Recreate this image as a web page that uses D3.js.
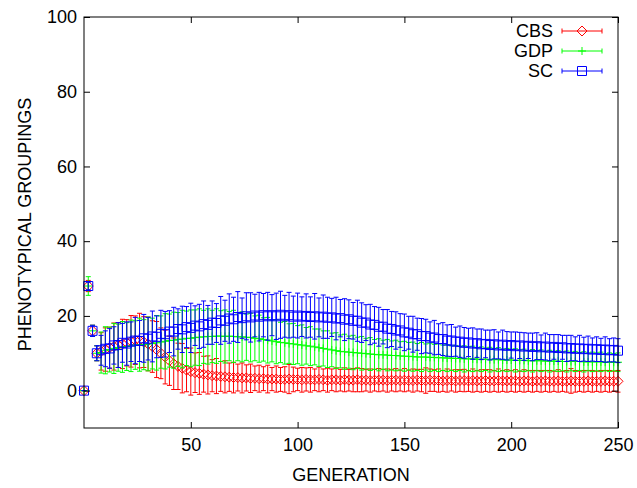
<!DOCTYPE html>
<html><head><meta charset="utf-8">
<script src="https://cdn.jsdelivr.net/npm/d3@7"></script>
<style>
html,body{margin:0;padding:0;background:#fff;}
svg{display:block;font-family:"Liberation Sans",Arial,sans-serif;}
</style></head>
<body>
<svg id="chart" width="637" height="488"></svg>
<script>
// generations sampled
const generations = [
  0,2,4,6,8,10,12,14,16,18,
  20,22,24,26,28,30,32,34,36,38,
  40,42,44,46,48,50,52,54,56,58,
  60,62,64,66,68,70,72,74,76,78,
  80,82,84,86,88,90,92,94,96,98,
  100,102,104,106,108,110,112,114,116,118,
  120,122,124,126,128,130,132,134,136,138,
  140,142,144,146,148,150,152,154,156,158,
  160,162,164,166,168,170,172,174,176,178,
  180,182,184,186,188,190,192,194,196,198,
  200,202,204,206,208,210,212,214,216,218,
  220,222,224,226,228,230,232,234,236,238,
  240,242,244,246,248,250];

const seriesNames = ["CBS", "GDP", "SC"];

const cbsMean = [
  0,28,16,10,10.5,11,11.5,11.8,12.2,12.5,
  12.8,13.2,13.5,13.4,13,12.5,11.8,11,10,9,
  8,7.2,6.5,6,5.5,5.1,4.8,4.6,4.4,4.2,
  4,3.9,3.8,3.7,3.6,3.5,3.5,3.4,3.4,3.3,
  3.3,3.2,3.2,3.1,3.1,3.1,3,3,3.1,3,
  3,2.9,3,2.9,2.9,3,2.9,2.8,2.9,2.9,
  2.8,2.9,2.8,2.8,2.9,2.8,2.8,2.7,2.8,2.8,
  2.8,2.7,2.8,2.8,2.7,2.8,2.7,2.7,2.8,2.7,
  2.7,2.8,2.7,2.7,2.6,2.7,2.7,2.6,2.7,2.7,
  2.6,2.7,2.6,2.6,2.7,2.6,2.6,2.7,2.6,2.6,
  2.6,2.6,2.5,2.6,2.6,2.5,2.6,2.5,2.6,2.5,
  2.5,2.6,2.5,2.5,2.6,2.5,2.5,2.5,2.6,2.5,
  2.5,2.5,2.6,2.5,2.5,2.5];
const cbsErr = [
  0,1.5,1.5,2,5,5.8,5.5,6.3,6,6.6,
  6.2,6.9,6.5,7.3,6.8,7.2,6.9,7.5,6.8,7.2,
  6.6,6.9,6.2,6.6,5.8,6.3,5.3,5.6,4.8,5.1,
  4.3,4.7,4,4.3,3.8,4.1,3.6,4,3.5,3.8,
  3.3,3.6,3.2,3.7,3.1,3.5,3.2,3.4,3.9,3.3,
  3,3.3,3.1,3.3,2.9,3.3,2.9,3.2,2.9,3.2,
  2.9,3.2,2.9,3.1,3.2,3.1,2.9,3.1,2.9,3.1,
  2.9,3.1,2.9,3.1,2.8,3.1,2.8,3.1,2.9,3,
  3.4,3,2.9,3.1,2.8,3.1,2.8,3,2.9,3,
  2.8,3.1,2.8,3,2.9,3,2.8,3.1,2.8,3,
  2.8,3,2.7,3,2.8,2.9,2.8,2.9,2.8,2.9,
  2.7,3,2.7,2.9,3.3,2.9,2.7,2.9,2.8,2.9,
  2.7,2.9,2.8,2.9,2.7,2.9];

const gdpMean = [
  0,28,16,10,10.2,10.8,11,11.3,11.5,11.7,
  11.8,12,12.2,12.3,12.3,12.5,12.6,12.8,13,13.2,
  13.4,13.5,13.7,13.8,14,14,14.2,14.3,14.4,14.5,
  14.5,14.6,14.6,14.5,14.6,14.5,14.4,14.4,14.3,14.2,
  14,13.9,13.7,13.5,13.3,13.1,12.9,12.8,12.6,12.5,
  12.3,12.2,12,11.9,11.7,11.5,11.3,11.1,10.9,10.7,
  10.5,10.4,10.3,10.2,10.1,10,9.9,9.8,9.7,9.6,
  9.6,9.5,9.4,9.4,9.3,9.2,9.2,9.1,9,9,
  9,8.9,8.9,8.8,8.8,8.7,8.7,8.6,8.6,8.5,
  8.5,8.5,8.4,8.4,8.4,8.3,8.3,8.3,8.2,8.2,
  8.2,8.1,8.1,8.1,8,8,8,8,7.9,7.9,
  7.9,7.9,7.8,7.8,7.8,7.8,7.8,7.7,7.7,7.7,
  7.7,7.7,7.6,7.6,7.6,7.6];
const gdpErr = [
  0,2.5,1.5,2,5.5,6.3,6,6.7,6.3,6.8,
  6.4,6.9,6.5,7.1,6.7,7.2,6.8,7.3,7,7.4,
  7.1,7.5,7.2,7.7,7.3,7.6,7.4,7.6,7.1,7.4,
  7,7.3,6.8,7.1,6.6,7,6.4,6.7,6.2,6.5,
  6,6.3,5.8,6.1,5.6,5.9,5.4,5.7,5.3,5.5,
  5.1,5.4,4.9,5.2,4.8,5,4.7,4.9,4.5,4.8,
  4.4,4.7,4.3,4.6,4.2,4.5,4.1,4.4,4,4.3,
  3.9,4.2,3.9,4.1,3.8,4,3.7,3.9,3.6,3.9,
  3.5,3.8,3.5,3.7,3.4,3.6,3.3,3.5,3.2,3.5,
  3.2,3.4,3.1,3.3,3,3.3,3,3.2,2.9,3.1,
  2.9,3.1,2.8,3,2.7,3,2.7,2.9,2.6,2.9,
  2.6,2.8,2.5,2.8,2.5,2.7,2.4,2.7,2.4,2.6,
  2.4,2.6,2.3,2.5,2.3,2.5];

const scMean = [
  0,28,16,10,10.8,11.2,11.3,12.1,12.2,12.8,
  12.6,13.1,13.4,13.3,14,13.9,14.5,14.4,15.2,15.1,
  15.8,15.8,16.5,16.4,17,16.8,17.4,17.2,17.8,17.6,
  18.2,18.1,18.8,18.7,19.3,19.1,19.7,19.4,19.9,19.6,
  20.1,19.8,20.2,19.9,20.2,19.9,20.3,19.9,20.2,19.8,
  20.1,19.8,20,19.7,19.9,19.6,19.8,19.5,19.6,19.3,
  19.4,19,19.1,18.7,18.7,18.2,18.2,17.7,17.6,17.1,
  17.1,16.6,16.5,16.1,16.1,15.6,15.5,15.1,15.1,14.6,
  14.6,14.2,14.2,13.8,13.8,13.4,13.4,13.1,13.1,12.8,
  12.9,12.6,12.7,12.4,12.5,12.2,12.4,12.1,12.3,12,
  12.2,11.9,12.1,11.8,12,11.7,11.9,11.6,11.8,11.5,
  11.7,11.4,11.6,11.3,11.4,11.2,11.3,11.1,11.2,11,
  11.1,10.9,11,10.8,10.9,10.7];
const scErr = [
  0,1,1.5,2,4,4.8,5.3,5,6,5.2,
  5.8,5.3,6.2,5.5,6.4,5.7,6.8,5.6,6.3,6.1,
  5.6,6.5,5.4,6.2,5.5,6.6,5.3,5.9,6.2,5.2,
  5.8,5.2,6.4,5.5,6.6,5.9,6.8,5.4,6.3,6.6,
  5.7,6.5,5.8,6.4,5.5,6.2,6.3,5.6,6.1,5.5,
  6,5.3,5.9,5.4,6.1,5.2,5.8,5.5,5.1,5.7,
  5,5.6,5.2,4.9,5.5,5.3,4.8,5.4,4.9,5.2,
  4.6,5.1,4.7,5,4.5,4.9,4.4,4.8,4.3,4.7,
  4.5,4.2,4.6,4.1,4.4,4.2,4.3,3.9,4.2,4.1,
  3.8,4.2,3.8,4.1,3.7,4,3.9,3.6,3.9,3.8,
  3.5,3.8,3.5,3.7,3.4,3.7,3.6,3.3,3.6,3.5,
  3.3,3.6,3.2,3.5,3.4,3.2,3.5,3.2,3.4,3.1,
  3.3,3.1,3.4,3.1,3.2,3.2];

const xTicks = [50, 100, 150, 200, 250];
const yTicks = [0, 20, 40, 60, 80, 100];

const series = [
  {name: seriesNames[0], mean: cbsMean, err: cbsErr, color: "#ff0000", marker: "diamond"},
  {name: seriesNames[1], mean: gdpMean, err: gdpErr, color: "#00ff00", marker: "plus"},
  {name: seriesNames[2], mean: scMean, err: scErr, color: "#0000ff", marker: "square"}
];

const svg = d3.select("#chart");
const L = 84, R = 618, T = 17, B = 428;
const x = d3.scaleLinear().domain([0, 250]).range([L, R]);
const y = d3.scaleLinear().domain([-10, 100]).range([B, T]);

function markerPath(type, cx, cy) {
  if (type === "square") { const h = 4.5; return `M${cx-h},${cy-h}H${cx+h}V${cy+h}H${cx-h}Z`; }
  if (type === "diamond") { const h = 5; return `M${cx},${cy-h}L${cx+h},${cy}L${cx},${cy+h}L${cx-h},${cy}Z`; }
  const h = 4; return `M${cx-h},${cy}H${cx+h}M${cx},${cy-h}V${cy+h}`;
}

const cap = 2.5;
series.forEach(s => {
  const g = svg.append("g").attr("fill", "none").attr("stroke", s.color).attr("stroke-width", 1);
  const pts = generations.map((gen, i) => ({gen, v: s.mean[i], e: s.err[i]}));
  const eb = g.append("g");
  pts.forEach(p => {
    const cx = x(p.gen), y1 = y(p.v - p.e), y2 = y(p.v + p.e);
    eb.append("path").attr("d", `M${cx},${y1}V${y2}M${cx-cap},${y1}H${cx+cap}M${cx-cap},${y2}H${cx+cap}`);
  });
  g.append("g").selectAll("path").data(pts).join("path")
    .attr("d", p => markerPath(s.marker, x(p.gen), y(p.v)));
});

// frame
svg.append("rect").attr("x", L).attr("y", T).attr("width", R - L).attr("height", B - T)
  .attr("fill", "none").attr("stroke", "#000").attr("stroke-width", 1);

const fontSize = 18;
const xAxis = svg.append("g").attr("transform", `translate(0,${B})`)
  .call(d3.axisBottom(x).tickValues(xTicks).tickSizeInner(-6).tickSizeOuter(0).tickPadding(10).tickFormat(d3.format("d")));
const yAxis = svg.append("g").attr("transform", `translate(${L},0)`)
  .call(d3.axisLeft(y).tickValues(yTicks).tickSizeInner(-6).tickSizeOuter(0).tickPadding(7).tickFormat(d3.format("d")));
const xTop = svg.append("g").attr("transform", `translate(0,${T})`)
  .call(d3.axisTop(x).tickValues(xTicks).tickSizeInner(-6).tickSizeOuter(0).tickFormat(""));
const yRight = svg.append("g").attr("transform", `translate(${R},0)`)
  .call(d3.axisRight(y).tickValues(yTicks).tickSizeInner(-6).tickSizeOuter(0).tickFormat(""));
[xAxis, yAxis, xTop, yRight].forEach(a => {
  a.select(".domain").remove();
  a.selectAll("text").attr("font-size", fontSize).attr("font-family", "Liberation Sans, Arial, sans-serif").attr("fill", "#000");
  a.selectAll("line").attr("stroke", "#000");
});

svg.append("text").attr("x", (L + R) / 2).attr("y", 481).attr("text-anchor", "middle")
  .attr("font-size", fontSize).text("GENERATION");
svg.append("text").attr("transform", `translate(31,${(T + B) / 2 + 2}) rotate(-90)`).attr("text-anchor", "middle")
  .attr("font-size", fontSize).text("PHENOTYPICAL GROUPINGS");

// legend
const lg = svg.append("g");
series.forEach((s, i) => {
  const ly = 31 + i * 20;
  lg.append("text").attr("x", 553).attr("y", ly).attr("dy", "0.35em").attr("text-anchor", "end")
    .attr("font-size", fontSize).text(s.name);
  const g = lg.append("g").attr("fill", "none").attr("stroke", s.color).attr("stroke-width", 1);
  g.append("path").attr("d", `M562,${ly}H602M562,${ly-2.5}V${ly+2.5}M602,${ly-2.5}V${ly+2.5}`);
  g.append("path").attr("d", markerPath(s.marker, 582, ly));
});
</script>
</body></html>
